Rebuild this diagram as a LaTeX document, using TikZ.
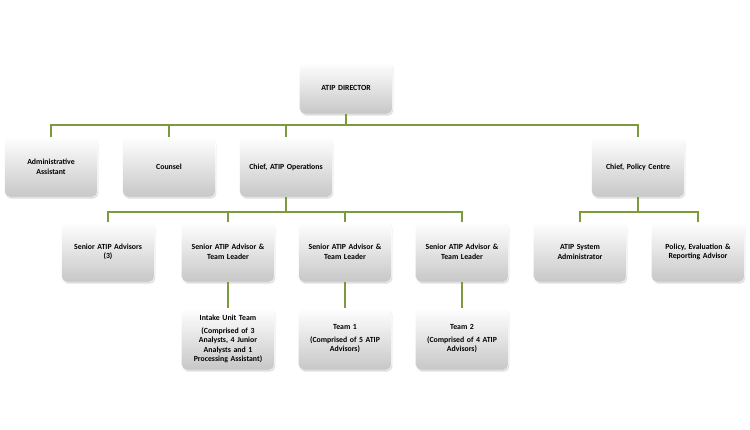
\documentclass[tikz,border=0pt]{standalone}
\usepackage{fontspec}
\setmainfont{Carlito}
\usetikzlibrary{shadows}
\definecolor{ln}{RGB}{122,154,60}
\begin{document}
\begin{tikzpicture}[x=1pt,y=-1pt,
  box/.style={rounded corners=5pt,minimum width=90pt,minimum height=60pt,draw=white,
    top color=white,bottom color=black!22,
    drop shadow={shadow xshift=1pt,shadow yshift=-1.5pt,opacity=0.25},
    font=\bfseries\fontsize{7.8}{9.5}\selectfont,align=center,text width=86pt},
  con/.style={ln,line width=2.2pt}]
\useasboundingbox (0,0) rectangle (750,429);
\node[box,minimum height=52pt] (dir) at (346,88) {ATIP DIRECTOR};
\node[box] (adm) at (51,167) {Administrative\\Assistant};
\node[box] (cou) at (169,167) {Counsel};
\node[box] (ops) at (286,167) {Chief, ATIP Operations};
\node[box] (pol) at (638,167) {Chief, Policy Centre};
\node[box] (s3) at (108,252) {Senior ATIP Advisors\\(3)};
\node[box] (t1) at (228,252) {Senior ATIP Advisor \&\\Team Leader};
\node[box] (t2) at (345,252) {Senior ATIP Advisor \&\\Team Leader};
\node[box] (t3) at (462,252) {Senior ATIP Advisor \&\\Team Leader};
\node[box] (sys) at (580,252) {ATIP System\\Administrator};
\node[box] (per) at (698,252) {Policy, Evaluation \&\\Reporting Advisor};
\node[box,minimum height=62pt] (u1) at (228,339) {Intake Unit Team\\[3pt](Comprised of 3\\Analysts, 4 Junior\\Analysts and 1\\Processing Assistant)};
\node[box,minimum height=62pt] (u2) at (345,339) {Team 1\\[3pt](Comprised of 5 ATIP\\Advisors)};
\node[box,minimum height=62pt] (u3) at (462,339) {Team 2\\[3pt](Comprised of 4 ATIP\\Advisors)};
\begin{scope}[on background layer/.try]
\coordinate (b1) at (0,125);
\foreach \n in {adm,cou,ops,pol}
  \draw[con] (dir.south) |- (b1 -| dir.south) -| (\n.north);
\coordinate (b2) at (0,212);
\foreach \n in {s3,t1,t2,t3}
  \draw[con] (ops.south) |- (b2 -| ops.south) -| (\n.north);
\foreach \n in {sys,per}
  \draw[con] (pol.south) |- (b2 -| pol.south) -| (\n.north);
\draw[con] (t1) -- (u1); \draw[con] (t2) -- (u2); \draw[con] (t3) -- (u3);
\end{scope}
\end{tikzpicture}
\end{document}
